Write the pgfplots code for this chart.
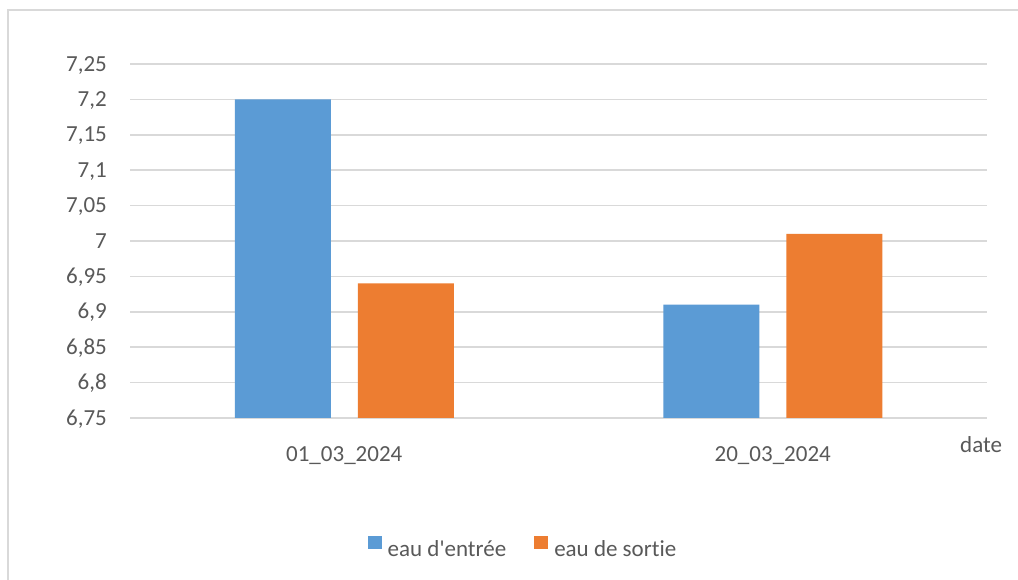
\documentclass[border=0pt]{standalone}
\usepackage{fontspec}
\setmainfont{Carlito}[Ligatures={NoCommon}]
\usepackage{pgfplots}
\pgfplotsset{compat=1.18}
\definecolor{txt}{HTML}{595959}
\definecolor{gridc}{HTML}{D9D9D9}
\definecolor{cblue}{HTML}{5B9BD5}
\definecolor{corange}{HTML}{ED7D31}
\begin{document}
\begin{tikzpicture}
\useasboundingbox (0,0) rectangle (1018pt,580pt);
\fill[white] (0,0) rectangle (1018pt,580pt);
\draw[gridc, line width=1.5pt] (8pt,-2pt) -- (8pt,570pt) -- (1020pt,570pt);
\begin{axis}[
  at={(130pt,162pt)}, anchor=south west,
  scale only axis, width=857pt, height=354pt,
  ymin=6.75, ymax=7.25,
  ytick={6.75,6.8,6.85,6.9,6.95,7,7.05,7.1,7.15,7.2,7.25},
  xmin=-0.5, xmax=1.5,
  xtick={0,1}, xticklabels={01\_03\_2024,20\_03\_2024},
  axis line style={draw=none},
  major tick style={draw=none},
  ymajorgrids, grid style={gridc, line width=1.5pt},
  /pgf/number format/assume math mode=true,
  /pgf/number format/use comma,
  yticklabel style={/pgf/number format/fixed, anchor=base east, inner sep=0pt, xshift=-23pt, yshift=-7.2pt},
  xticklabel style={anchor=base, inner sep=0pt, yshift=-39pt},
  tick label style={font=\fontsize{23}{27}\selectfont, text=txt},
  ybar, bar width=96pt,
  legend style={at={(axis description cs:0.4586,-0.367)}, anchor=center, draw=none, fill=none,
     font=\fontsize{23}{27}\selectfont, text=txt, legend columns=2,
     /tikz/every odd column/.append style={column sep=4pt},
     /tikz/every even column/.append style={column sep=26pt}},
  legend image code/.code={\fill[#1] (0pt,-0.5pt) rectangle (14pt,12.5pt);},
]
\addplot[fill=cblue, draw=none, bar shift=-61.5pt] coordinates {(0,7.2) (1,6.91)};
\addplot[fill=corange, draw=none, bar shift=61.5pt] coordinates {(0,6.94) (1,7.01)};
\legend{eau d\textquotesingle entrée, eau de sortie}
\end{axis}
\node[anchor=base west, inner sep=0pt, text=txt, font=\fontsize{23}{27}\selectfont] at (960pt,127pt) {date};
\end{tikzpicture}
\end{document}
